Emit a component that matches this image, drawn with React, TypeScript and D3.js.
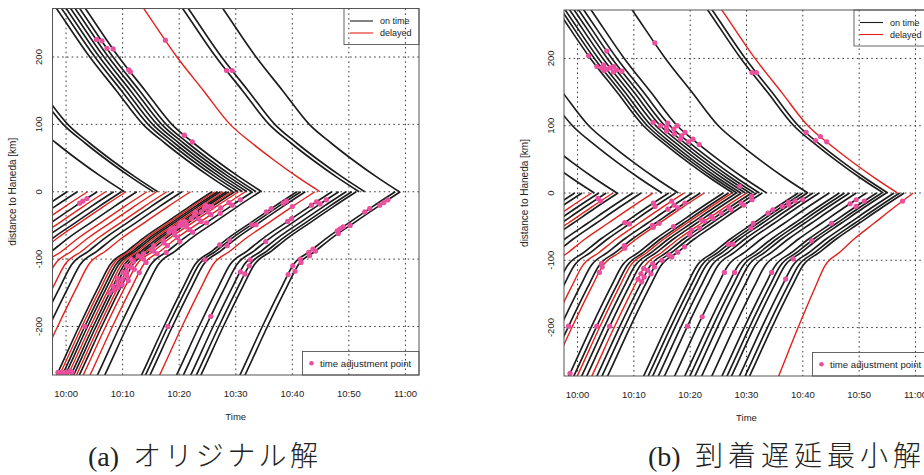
import React from "react";
import * as d3 from "d3";

// ---------- axis data ----------
const timeTickMinutes = [0, 10, 20, 30, 40, 50, 60];
const timeTickLabels = ["10:00", "10:10", "10:20", "10:30", "10:40", "10:50", "11:00"];
const distanceTicks = [-200, -100, 0, 100, 200];

// ---------- approach profiles (minutes before arrival, km) ----------
const northProfileTau = [0, 4, 8, 12, 15.9, 20.6, 25.3, 31.1, 34];
const northProfileKm = [0, 22, 46, 72, 100, 150, 200, 271, 306];
const southProfileTau = [0, 4, 8, 12, 15, 18, 20, 23.5, 27.4, 30];
const southProfileKm = [0, -22, -45, -68, -88, -108, -140, -200, -271, -316];

// ---------- panel (a): [arrival minute after 10:00, delayed flag, time scale] ----------
const aNorthFlights: number[][] = [
  [10.3, 0], [15.4, 0], [16.2, 0], [29.5, 0], [30.4, 0], [31.2, 0], [32.0, 0],
  [32.8, 0], [33.6, 0], [34.6, 0], [44.9, 1], [51.8, 0], [52.8, 0], [58.9, 0],
];
const aSouthFlights: number[][] = [
  [0.2, 0], [2.0, 0], [3.8, 1], [5.5, 0], [7.0, 1], [8.4, 0], [9.8, 0], [10.6, 1],
  [12.5, 0], [14.3, 1], [16.0, 1], [17.8, 1], [19.0, 0], [20.5, 0], [22.0, 1],
  [25.8, 0], [26.3, 1], [26.8, 0], [27.3, 0], [27.8, 1], [28.3, 0], [28.8, 0],
  [29.3, 1], [29.8, 0], [30.5, 1], [31.7, 1], [33.0, 0], [34.3, 0],
  [40.8, 0], [41.5, 0], [42.3, 0], [44.0, 1],
  [47.0, 0], [48.2, 0], [49.5, 0], [50.5, 0], [51.3, 0],
  [58.2, 0], [59.1, 0],
];
// time adjustment points: [flight index, km]
const aNorthAdjust: number[][] = [
  [7, 226], [8, 224], [8, 213], [9, 212], [9, 181], [9, 178], [9, 84], [9, 74],
  [10, 225], [11, 180], [12, 180],
];
const aSouthAdjust: number[][] = [
  [15, -268], [16, -268], [17, -268], [18, -268], [19, -266], [20, -268], [17, -200],
  [3, -10], [3, -14], [3, -17],
  [20, -150], [20, -140], [20, -128], [21, -146], [21, -135], [21, -120], [21, -110],
  [22, -142], [22, -130], [22, -118], [22, -104], [22, -92], [22, -80],
  [23, -138], [23, -125], [23, -112], [23, -98], [23, -86], [23, -72], [23, -60], [23, -48],
  [24, -132], [24, -115], [24, -100], [24, -88], [24, -76], [24, -64], [24, -52], [24, -40], [24, -30],
  [25, -120], [25, -105], [25, -92], [25, -80], [25, -68], [25, -56], [25, -44], [25, -34], [25, -24], [25, -16],
  [26, -90], [26, -74], [26, -60], [26, -46], [26, -32], [26, -20], [26, -12],
  [21, -60], [21, -50], [20, -55], [22, -40], [22, -30], [23, -22], [20, -100], [21, -95],
  [21, -54], [21, -44], [21, -34], [21, -24], [20, -45], [20, -30], [20, -20], [22, -50], [22, -22],
  [28, -25], [28, -30], [29, -14], [29, -17], [31, -22], [32, -15], [32, -20], [33, -12], [33, -18],
  [37, -52], [37, -58], [38, -12], [38, -16], [38, -20], [37, -25], [37, -30],
  [37, -85], [37, -90], [38, -95], [37, -100], [38, -105], [37, -110], [38, -118], [37, -123], [38, -88],
  [37, -55], [38, -62], [38, -50],
  [29, -72], [30, -80], [32, -40], [32, -44], [34, -101], [35, -110], [35, -122], [29, -101],
  [29, -200], [33, -185], [28, -79], [34, -119], [33, -74], [29, -49], [30, -49],
];

// ---------- panel (b) ----------
const bNorthFlights: number[][] = [
  [3.0, 0], [7.0, 0], [15.0, 0], [17.9, 0], [27.6, 0], [28.3, 0], [29.0, 0], [29.8, 0],
  [30.6, 0], [31.4, 0], [32.3, 0], [33.6, 0], [40.9, 0], [54.3, 0], [55.1, 0], [56.8, 1],
];
const bSouthFlights: number[][] = [
  [-0.5, 0], [0.8, 0], [2.5, 1], [3.8, 0], [5.1, 0], [6.3, 1], [7.2, 0], [9.8, 0],
  [11.3, 0], [13.4, 1], [16.2, 0], [17.4, 0], [18.9, 1], [20.4, 0], [21.8, 0], [22.5, 1],
  [25.9, 0], [26.8, 0], [27.4, 1], [28.2, 0], [29.1, 0], [30.0, 1], [30.9, 0], [31.8, 0], [32.8, 0],
  [39.2, 0], [40.0, 0], [40.8, 0], [41.8, 0], [42.9, 0], [44.7, 0], [46.5, 0], [47.4, 0],
  [48.3, 0], [49.5, 0], [51.3, 0], [53.1, 0], [54.0, 0], [54.8, 0], [56.2, 0], [57.2, 0], [58.0, 0],
  [59.6, 1, 0.87],
];
const bNorthAdjust: number[][] = [
  [4, 204], [9, 211], [4, 188], [5, 186], [5, 182], [6, 190], [6, 184], [7, 186], [7, 180],
  [8, 183], [8, 188], [9, 181], [12, 223],
  [7, 105], [8, 100], [8, 92], [9, 98], [9, 88], [9, 80], [10, 95], [10, 85], [10, 76],
  [11, 90], [11, 80], [11, 72], [10, 104], [11, 100],
  [13, 179], [14, 179], [14, 90], [15, 84], [15, 76], [14, 78], [8, 10],
];
const bSouthAdjust: number[][] = [
  [4, -8], [5, -12], [10, -15], [11, -20], [12, -12], [13, -18], [13, -24], [14, -15], [14, -22],
  [20, -40], [21, -35], [22, -30], [22, -22], [23, -25], [23, -15], [24, -18], [21, -42], [22, -38],
  [21, -55], [22, -62], [22, -52], [15, -45], [16, -50], [14, -48], [15, -51], [10, -44], [11, -46],
  [14, -78], [15, -82], [14, -105], [15, -110], [15, -118],
  [21, -128], [21, -120], [22, -125], [22, -115], [22, -105], [23, -110], [23, -100], [23, -92],
  [24, -95], [24, -88], [23, -120], [22, -132], [21, -112], [24, -80],
  [26, -76], [27, -76], [30, -118], [30, -184], [29, -198], [17, -198], [14, -198], [20, -198], [16, -268],
  [23, -5], [24, -10], [25, -25], [26, -20], [26, -14], [27, -12], [27, -18], [28, -10], [25, -30],
  [25, -45], [26, -52],
  [35, -10], [35, -16], [36, -12], [36, -20], [36, -45], [37, -71], [38, -98], [36, -118], [39, -128],
  [42, -12], [31, -118],
];

const legendLabels = ["on time", "delayed"];
const adjustLabel = "time adjustment point";

const BLACK = "#1c1c1c";
const RED = "#e3211c";
const PINK = "#ea4f9d";
const FONT = "'Liberation Sans', Arial, Helvetica, sans-serif";

type Geom = { left: number; right: number; top: number; bottom: number; id: string };

function Panel(props: {
  g: Geom;
  north: number[][];
  south: number[][];
  northPts: number[][];
  southPts: number[][];
}) {
  const { g, north, south, northPts, southPts } = props;
  const x = d3.scaleLinear().domain([-2.4, 62.4]).range([g.left, g.right]);
  const y = d3.scaleLinear().domain([-272, 272]).range([g.bottom, g.top]);
  const line = d3
    .line<number[]>()
    .x((d) => x(d[0]))
    .y((d) => y(d[1]))
    .curve(d3.curveMonotoneX);

  const traj = (f: number[], tau: number[], km: number[]) => {
    const s = f[2] ?? 1;
    return tau.map((t, i) => [f[0] - s * t, km[i]]).reverse();
  };
  const nTau = d3.scaleLinear().domain(northProfileKm).range(northProfileTau);
  const sTau = d3.scaleLinear().domain(southProfileKm).range(southProfileTau);

  const all = [
    ...north.map((f) => ({ f, d: line(traj(f, northProfileTau, northProfileKm)) })),
    ...south.map((f) => ({ f, d: line(traj(f, southProfileTau, southProfileKm)) })),
  ];
  const pts = [
    ...northPts.map(([i, km]) => {
      const f = north[i];
      return [f[0] - (f[2] ?? 1) * nTau(km), km];
    }),
    ...southPts.map(([i, km]) => {
      const f = south[i];
      return [f[0] - (f[2] ?? 1) * sTau(km), km];
    }),
  ];

  const cx = (g.left + g.right) / 2;
  const cy = (g.top + g.bottom) / 2;

  return (
    <g>
      <defs>
        <clipPath id={g.id}>
          <rect x={g.left} y={g.top} width={g.right - g.left} height={g.bottom - g.top} />
        </clipPath>
      </defs>
      {/* grid */}
      <g stroke="#333" strokeWidth={0.95} strokeDasharray="1.6,3.2">
        {timeTickMinutes.map((m) => (
          <line key={"gx" + m} x1={x(m)} x2={x(m)} y1={g.top} y2={g.bottom} />
        ))}
        {distanceTicks.map((v) => (
          <line key={"gy" + v} x1={g.left} x2={g.right} y1={y(v)} y2={y(v)} />
        ))}
      </g>
      {/* trajectories */}
      <g clipPath={`url(#${g.id})`} fill="none">
        {all
          .filter((a) => !a.f[1])
          .map((a, i) => (
            <path key={"k" + i} d={a.d || ""} stroke={BLACK} strokeWidth={1.65} />
          ))}
        {all
          .filter((a) => a.f[1])
          .map((a, i) => (
            <path key={"r" + i} d={a.d || ""} stroke={RED} strokeWidth={1.4} />
          ))}
        {pts.map((p, i) => (
          <circle key={"p" + i} cx={x(p[0])} cy={y(p[1])} r={2.6} fill={PINK} />
        ))}
      </g>
      {/* box */}
      <rect x={g.left} y={g.top} width={g.right - g.left} height={g.bottom - g.top} fill="none" stroke="#555" strokeWidth={1} />
      {/* legends */}
      <rect x={g.right - 75} y={g.top} width={75} height={36} fill="none" stroke="#555" strokeWidth={0.9} />
      {legendLabels.map((lab, i) => (
        <g key={lab}>
          <line x1={g.right - 69} x2={g.right - 46} y1={g.top + 12.5 + 12 * i} y2={g.top + 12.5 + 12 * i} stroke={i ? RED : BLACK} strokeWidth={1.1} />
          <text x={g.right - 39} y={g.top + 15.8 + 12 * i} fontSize={9} fontFamily={FONT} fill="#222">
            {lab}
          </text>
        </g>
      ))}
      <rect x={g.right - 116.5} y={g.bottom - 23.5} width={116.5} height={23.5} fill="none" stroke="#555" strokeWidth={0.9} />
      <circle cx={g.right - 107.5} cy={g.bottom - 11.7} r={2.3} fill={PINK} />
      <text x={g.right - 99} y={g.bottom - 8.3} fontSize={9.6} fontFamily={FONT} fill="#222">
        {adjustLabel}
      </text>
      {/* axis labels */}
      {timeTickMinutes.map((m, i) => (
        <text key={"tx" + m} x={x(m)} y={g.bottom + 21.5} fontSize={9.5} fontFamily={FONT} textAnchor="middle" fill="#222">
          {timeTickLabels[i]}
        </text>
      ))}
      {distanceTicks.map((v) => (
        <text
          key={"ty" + v}
          transform={`translate(${g.left - 14},${y(v)}) rotate(-90)`}
          fontSize={9.5}
          fontFamily={FONT}
          textAnchor="middle"
          dominantBaseline="central"
          fill="#222"
        >
          {v}
        </text>
      ))}
      <text x={cx} y={g.bottom + 45} fontSize={9.5} fontFamily={FONT} textAnchor="middle" fill="#222">
        Time
      </text>
      <text
        transform={`translate(${g.left - 40},${cy}) rotate(-90)`}
        fontSize={10}
        fontFamily={FONT}
        textAnchor="middle"
        dominantBaseline="central"
        fill="#222"
      >
        distance to Haneda [km]
      </text>
    </g>
  );
}

const captionA = ["(a)", "オリジナル解"];
const captionB = ["(b)", "到着遅延最小解"];

export default function App() {
  const gA: Geom = { left: 52.5, right: 419, top: 8.5, bottom: 375, id: "clipA" };
  const gB: Geom = { left: 564, right: 929, top: 10, bottom: 376, id: "clipB" };
  const serif = "'Liberation Serif', 'DejaVu Serif', serif";
  const jp = "'Noto Sans CJK JP', 'Noto Sans CJK SC', sans-serif";
  return (
    <svg width={924} height={475} style={{ position: "absolute", left: 0, top: 0, background: "#fff" }}>
      <rect width={924} height={475} fill="#fff" />
      <Panel g={gA} north={aNorthFlights} south={aSouthFlights} northPts={aNorthAdjust} southPts={aSouthAdjust} />
      <Panel g={gB} north={bNorthFlights} south={bSouthFlights} northPts={bNorthAdjust} southPts={bSouthAdjust} />
      <text x={88} y={466} fontSize={28} fontFamily={serif} fill="#222">{captionA[0]}</text>
      <text x={133} y={466} fontSize={28} fontFamily={jp} fontWeight={300} fill="#222" textLength={185} lengthAdjust="spacing">
        {captionA[1]}
      </text>
      <text x={648} y={466} fontSize={28} fontFamily={serif} fill="#222">{captionB[0]}</text>
      <text x={695} y={466} fontSize={28} fontFamily={jp} fontWeight={300} fill="#222" textLength={226} lengthAdjust="spacing">
        {captionB[1]}
      </text>
    </svg>
  );
}
